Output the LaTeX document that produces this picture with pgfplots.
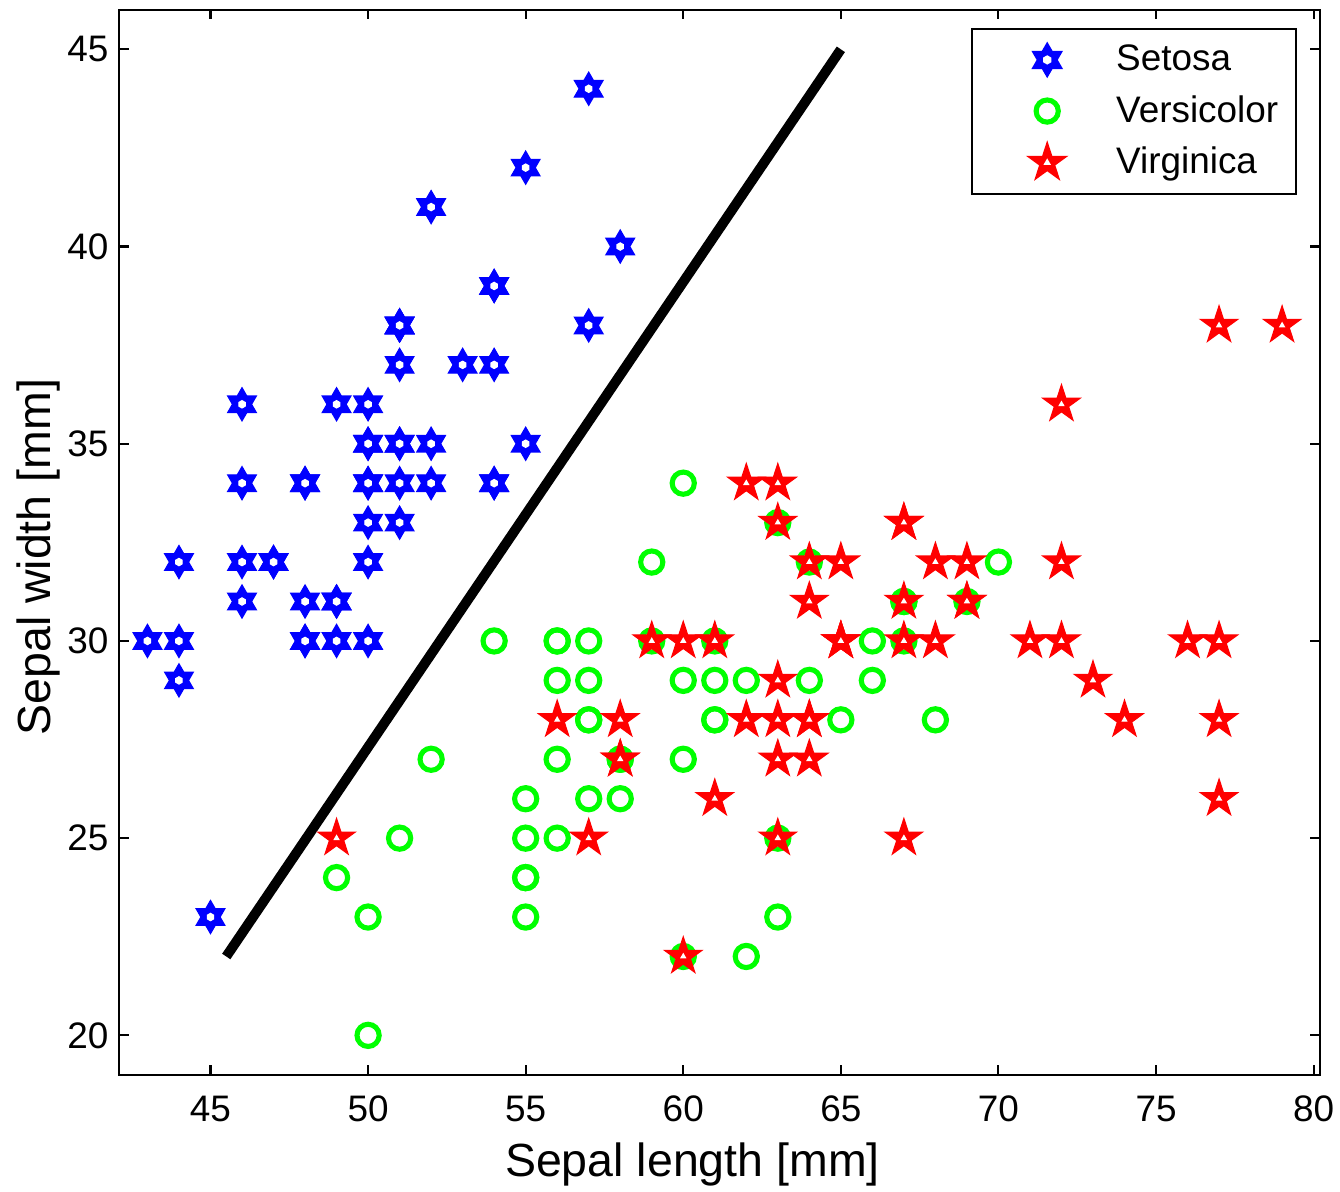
\documentclass[border=0pt]{standalone}
\usepackage{fontspec}
\setmainfont{Liberation Sans}
\usepackage{pgfplots}
\pgfplotsset{compat=1.18}

\definecolor{setosa}{RGB}{0,0,255}
\definecolor{versi}{RGB}{0,255,0}
\definecolor{virg}{RGB}{255,0,0}

% six-pointed star, filled, small hole in the middle
\pgfdeclareplotmark{hexa}{%
  \fill (90:\pgfplotmarksize) -- (120:0.577\pgfplotmarksize) -- (150:\pgfplotmarksize)
   -- (180:0.577\pgfplotmarksize) -- (210:\pgfplotmarksize) -- (240:0.577\pgfplotmarksize)
   -- (270:\pgfplotmarksize) -- (300:0.577\pgfplotmarksize) -- (330:\pgfplotmarksize)
   -- (0:0.577\pgfplotmarksize) -- (30:\pgfplotmarksize) -- (60:0.577\pgfplotmarksize) -- cycle;
  \fill[white] (90:0.22\pgfplotmarksize) -- (150:0.22\pgfplotmarksize) -- (210:0.22\pgfplotmarksize)
   -- (270:0.22\pgfplotmarksize) -- (330:0.22\pgfplotmarksize) -- (30:0.22\pgfplotmarksize) -- cycle;
}
% five-pointed star
\pgfdeclareplotmark{penta}{%
  \fill (90:\pgfplotmarksize) -- (126:0.382\pgfplotmarksize) -- (162:\pgfplotmarksize)
   -- (198:0.382\pgfplotmarksize) -- (234:\pgfplotmarksize) -- (270:0.382\pgfplotmarksize)
   -- (306:\pgfplotmarksize) -- (342:0.382\pgfplotmarksize) -- (18:\pgfplotmarksize)
   -- (54:0.382\pgfplotmarksize) -- cycle;
  \fill[white] (90:0.13\pgfplotmarksize) -- (210:0.13\pgfplotmarksize) -- (330:0.13\pgfplotmarksize) -- cycle;
}

% legend image: marker alone, inside a 42pt wide cell (invisible path sets the width)
\pgfplotsset{wideleg/.style={legend image code/.code={%
  \pgfpathmoveto{\pgfpoint{0pt}{0pt}}\pgfpathmoveto{\pgfpoint{42pt}{0pt}}\pgfusepath{discard}%
  \path[##1, only marks, mark repeat=2, mark phase=2] plot coordinates {(0pt,0pt) (21pt,0pt) (42pt,0pt)};}}}

\begin{document}
\begin{tikzpicture}
\begin{axis}[
  scale only axis,
  width=400.3pt, height=355pt,
  xmin=42.1, xmax=80.2,
  ymin=19, ymax=46,
  xtick={45,50,...,80},
  ytick={20,25,...,45},
  tick align=inside,
  major tick length=3.2pt,
  axis line style={line width=0.7pt},
  every tick/.style={black, line width=0.7pt},
  tick label style={font=\fontsize{12.3}{14}\selectfont},
  xticklabel style={yshift=-3.5pt},
  /pgf/number format/assume math mode=true,
  xlabel={Sepal length [mm]},
  ylabel={Sepal width [mm]},
  label style={font=\fontsize{15.5}{18}\selectfont},
  xlabel style={at={(axis description cs:0.4775,-0.0845)}, anchor=center},
  ylabel style={at={(axis description cs:-0.0675,0.486)}, anchor=center},
  legend style={at={(0.981,0.983)}, anchor=north east,
    font=\fontsize{12.3}{14}\selectfont, draw=black, line width=0.6pt,
    inner xsep=4pt, inner ysep=3.3pt, row sep=2.8pt,
    cells={anchor=west}},
]
\addplot[only marks, wideleg, mark=hexa, mark size=5.5pt, color=setosa, fill=setosa] coordinates {
(51,35) (49,30) (47,32) (46,31) (50,36) (54,39) (46,34) (50,34) (44,29) (49,31)
(54,37) (48,34) (48,30) (43,30) (58,40) (57,44) (54,39) (51,35) (57,38) (51,38)
(54,34) (51,37) (46,36) (51,33) (48,34) (50,30) (50,34) (52,35) (52,34) (47,32)
(48,31) (54,34) (52,41) (55,42) (49,31) (50,32) (55,35) (49,36) (44,30) (51,34)
(50,35) (45,23) (44,32) (50,35) (51,38) (48,30) (51,38) (46,32) (53,37) (50,33)
};
\addlegendentry{Setosa}
\addplot[only marks, wideleg, mark=o, mark size=3.7pt, color=versi, line width=1.7pt] coordinates {
(70,32) (64,32) (69,31) (55,23) (65,28) (57,28) (63,33) (49,24) (66,29) (52,27)
(50,20) (59,30) (60,22) (61,29) (56,29) (67,31) (56,30) (58,27) (62,22) (56,25)
(59,32) (61,28) (63,25) (61,28) (64,29) (66,30) (68,28) (67,30) (60,29) (57,26)
(55,24) (55,24) (58,27) (60,27) (54,30) (60,34) (67,31) (63,23) (56,30) (55,25)
(55,26) (61,30) (58,26) (50,23) (56,27) (57,30) (57,29) (62,29) (51,25) (57,28)
};
\addlegendentry{Versicolor}
\addplot[only marks, wideleg, mark=penta, mark size=6.5pt, color=virg, fill=virg] coordinates {
(63,33) (58,27) (71,30) (63,29) (65,30) (76,30) (49,25) (73,29) (67,25) (72,36)
(65,32) (64,27) (68,30) (57,25) (58,28) (64,32) (65,30) (77,38) (77,26) (60,22)
(69,32) (56,28) (77,28) (63,27) (67,33) (72,32) (62,28) (61,30) (64,28) (72,30)
(74,28) (79,38) (64,28) (63,28) (61,26) (77,30) (63,34) (64,31) (60,30) (69,31)
(67,31) (69,31) (58,27) (68,32) (67,33) (67,30) (63,25) (65,30) (62,34) (59,30)
};
\addlegendentry{Virginica}
\addplot[black, line width=3.3pt, forget plot] coordinates {(45.5,22) (65,45)};
\end{axis}
\pgfresetboundingbox
\path ([shift={(-39.7pt,-39pt)}]current axis.south west) rectangle ([shift={(6.7pt,3.3pt)}]current axis.north east);
\end{tikzpicture}
\end{document}
